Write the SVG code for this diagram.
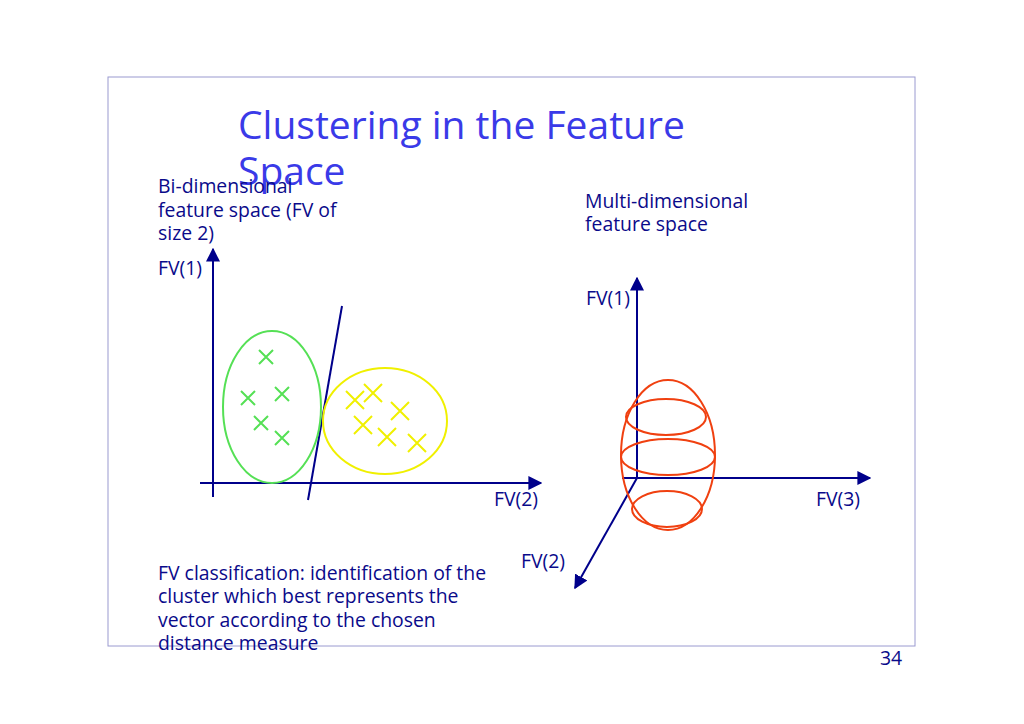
<svg xmlns="http://www.w3.org/2000/svg" width="1024" height="724" viewBox="0 0 1024 724">
<defs>
<marker id="ah" viewBox="0 0 10 10" refX="9" refY="5" markerWidth="7" markerHeight="7" orient="auto"><path d="M0,0 L10,5 L0,10 z" fill="#00008B"/></marker>
<style>
.t{font-family:"Open Sans","Noto Sans",sans-serif;font-size:19.4px;fill:#0a0a8a}
.ax{stroke:#00008B;stroke-width:2;fill:none}
.g{stroke:#55e055;stroke-width:2;fill:none}
.y{stroke:#f0f000;stroke-width:2;fill:none}
.r{stroke:#f04010;stroke-width:2;fill:none}
</style>
</defs>
<rect width="1024" height="724" fill="#fff"/>
<rect x="108" y="77" width="807" height="569" fill="none" stroke="#9a9ad0" stroke-width="1"/>
<text x="238" y="139" font-family="'Open Sans','Noto Sans',sans-serif" font-size="39" fill="#3a3ae8">Clustering in the Feature</text>
<text x="238" y="185" font-family="'Open Sans','Noto Sans',sans-serif" font-size="39" fill="#3a3ae8">Space</text>
<g id="labels">
<text class="t" x="158" y="193">Bi-dimensional</text>
<text class="t" x="158" y="217">feature  space (FV of</text>
<text class="t" x="158" y="240">size 2)</text>
<text class="t" x="585" y="208">Multi-dimensional</text>
<text class="t" x="585" y="231">feature  space</text>
<text class="t" x="158" y="275">FV(1)</text>
<text class="t" x="494" y="506">FV(2)</text>
<text class="t" x="586" y="305">FV(1)</text>
<text class="t" x="816" y="506">FV(3)</text>
<text class="t" x="521" y="568">FV(2)</text>
<text class="t" x="158" y="580">FV classification: identification of the</text>
<text class="t" x="158" y="603">cluster which best represents the</text>
<text class="t" x="158" y="627">vector  according to the chosen</text>
<text class="t" x="158" y="650">distance  measure</text>
<text class="t" x="880" y="665" font-size="16">34</text>
</g>
<g id="connectors">
<line class="ax" x1="213" y1="497" x2="213" y2="249" marker-end="url(#ah)"/>
<line class="ax" x1="200" y1="483" x2="541" y2="483" marker-end="url(#ah)"/>
<line class="ax" x1="342" y1="306" x2="308" y2="500"/>
<line class="ax" x1="637" y1="478" x2="637" y2="278" marker-end="url(#ah)"/>
<line class="ax" x1="622" y1="478" x2="870" y2="478" marker-end="url(#ah)"/>
<line class="ax" x1="637" y1="478" x2="575" y2="588" marker-end="url(#ah)"/>
</g>
<g id="green-cluster">
<ellipse class="g" cx="272" cy="407" rx="49" ry="76"/>
<path class="g" d="M259,350l14,14M273,350l-14,14 M241,391l14,14M255,391l-14,14 M275,387l14,14M289,387l-14,14 M254,416l14,14M268,416l-14,14 M275,431l14,14M289,431l-14,14"/>
</g>
<g id="yellow-cluster">
<ellipse class="y" cx="385" cy="421" rx="62" ry="53"/>
<path class="y" d="M346,391l18,18M364,391l-18,18 M364,384l18,18M382,384l-18,18 M391,402l18,18M409,402l-18,18 M354,416l18,18M372,416l-18,18 M378,428l18,18M396,428l-18,18 M408,434l18,18M426,434l-18,18"/>
</g>
<g id="multi-cluster">
<ellipse class="r" cx="668" cy="455" rx="47" ry="75"/>
<ellipse class="r" cx="666" cy="417" rx="40" ry="18"/>
<ellipse class="r" cx="668" cy="457" rx="47" ry="18"/>
<ellipse class="r" cx="667" cy="509" rx="35" ry="18"/>
</g>
</svg>
